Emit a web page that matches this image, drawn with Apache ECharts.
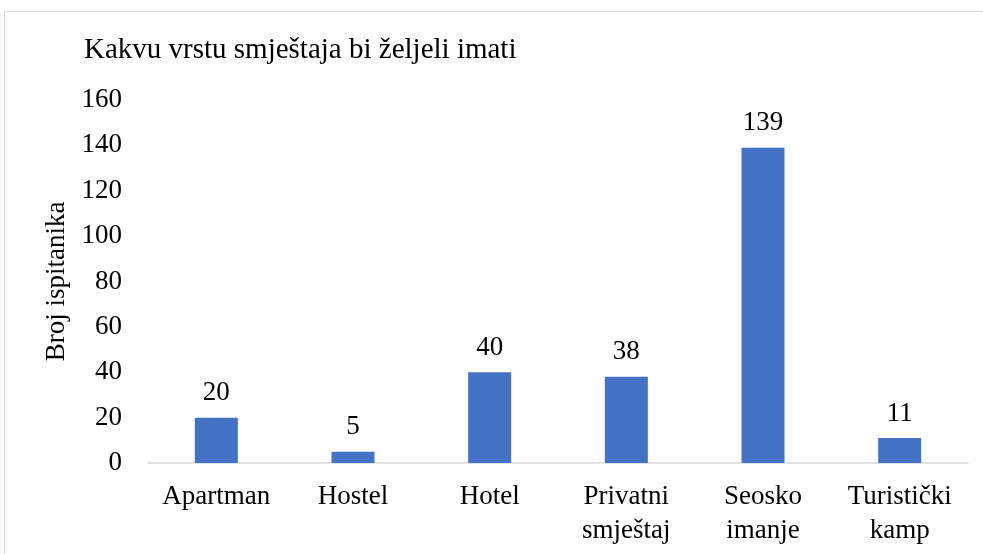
<!DOCTYPE html>
<html>
<head>
<meta charset="utf-8">
<script src="https://cdn.jsdelivr.net/npm/echarts@6/dist/echarts.min.js"></script>
<style>
  html, body { margin: 0; padding: 0; background: #fff; }
  #frame { position: absolute; left: 4px; top: 11px; width: 990px; height: 560px; border: 1px solid #d9d9d9; box-sizing: border-box; }
  #chart { position: absolute; left: 0; top: 0; width: 983px; height: 554px; }
</style>
</head>
<body>
<div id="frame"></div>
<div id="chart"></div>
<script>
const categories = ['Apartman', 'Hostel', 'Hotel', 'Privatni\nsmještaj', 'Seosko\nimanje', 'Turistički\nkamp'];
const values = [20, 5, 40, 38, 139, 11];
const yTicks = { min: 0, max: 160, interval: 20 };

const font = '"Liberation Serif", "Times New Roman", serif';
const chart = echarts.init(document.getElementById('chart'), null, { renderer: 'canvas' });

const option = {
  animation: false,
  textStyle: { fontFamily: font },
  title: {
    text: 'Kakvu vrstu smještaja bi željeli imati',
    left: 79,
    top: 31,
    textStyle: { fontFamily: font, fontSize: 29, fontWeight: 'normal', color: '#000' }
  },
  grid: { left: 148, right: 15, top: 100, bottom: 91, containLabel: false },
  xAxis: {
    type: 'category',
    data: categories,
    axisLine: { lineStyle: { color: '#d9d9d9', width: 1.5 } },
    axisTick: { show: false },
    axisLabel: { fontFamily: font, fontSize: 27, color: '#000', margin: 17, lineHeight: 34, interval: 0 }
  },
  yAxis: {
    type: 'value',
    min: yTicks.min,
    max: yTicks.max,
    interval: yTicks.interval,
    name: 'Broj ispitanika',
    nameLocation: 'middle',
    nameGap: 67,
    nameTextStyle: { fontFamily: font, fontSize: 27, color: '#000' },
    splitLine: { show: false },
    axisLine: { show: false },
    axisTick: { show: false },
    axisLabel: { fontFamily: font, fontSize: 27, color: '#000', margin: 26 }
  },
  series: [{
    type: 'bar',
    data: values,
    barWidth: 43,
    itemStyle: { color: '#4472C4' },
    label: { show: true, position: 'top', distance: 11, fontFamily: font, fontSize: 27, color: '#000' }
  }]
};

chart.setOption(option);
</script>
</body>
</html>
